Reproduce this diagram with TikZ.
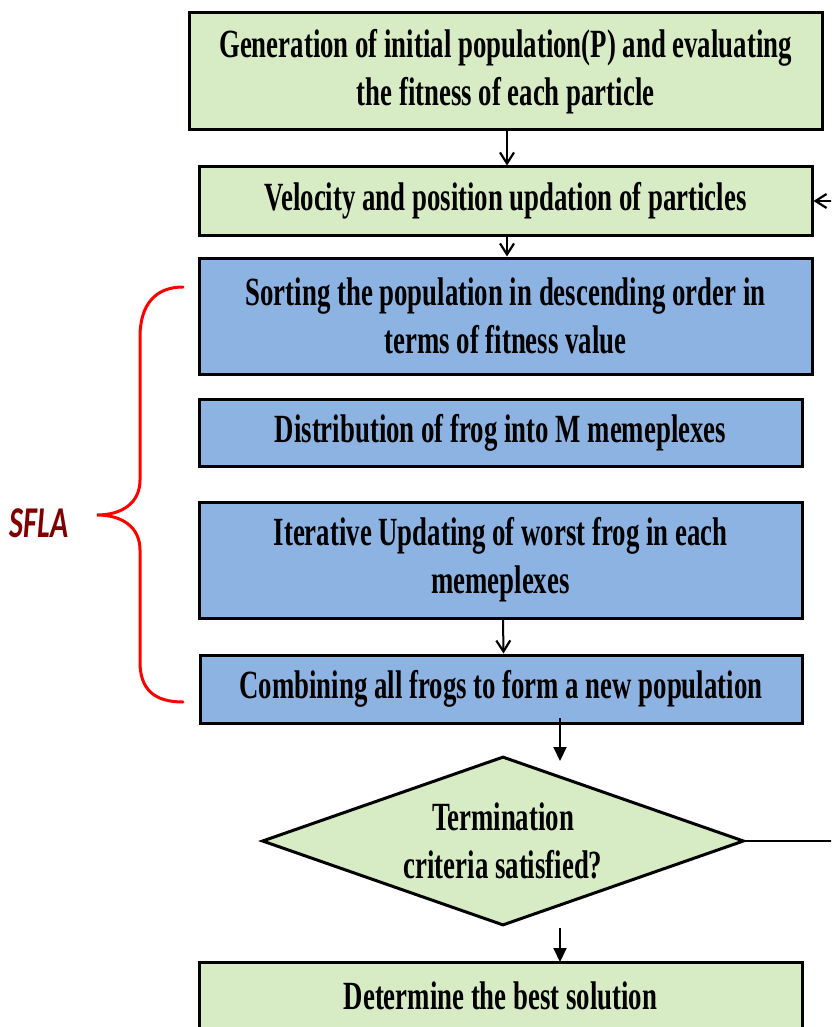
\documentclass[tikz,border=0pt]{standalone}
\usepackage{fontspec}
\usetikzlibrary{shapes.geometric,arrows.meta,calc}
\newfontfamily\boxfont[FakeStretch=0.67]{Liberation Serif}
\newfontfamily\sflafont[FakeStretch=0.68]{Carlito}
\definecolor{stepgreen}{HTML}{D7EBC4}
\definecolor{stepblue}{HTML}{8DB3E2}
\definecolor{sflared}{HTML}{800000}
\begin{document}
\begin{tikzpicture}[x=1pt,y=-1pt,
  box/.style={draw=black, line width=3pt, rectangle, inner sep=0pt, align=center,
    font=\boxfont\bfseries\fontsize{40}{48}\selectfont},
  greenbox/.style={box, fill=stepgreen},
  bluebox/.style={box, fill=stepblue},
  decision/.style={diamond, aspect=2.852, draw=black, line width=3pt, fill=stepgreen, inner sep=0pt,
    minimum width=482pt, minimum height=169pt, align=center,
    font=\boxfont\bfseries\fontsize{40}{48}\selectfont},
  flow/.style={line width=2pt, -{Straight Barb[length=11pt,width=14pt,line width=2.2pt]}},
  solidflow/.style={line width=2pt, -{Triangle[length=14pt,width=13pt]}},
  brace/.style={draw=red, line width=3pt, line cap=round},
]
\useasboundingbox (0,0) rectangle (831,1027);
\clip (0,0) rectangle (831,1027);

% process steps
\node[greenbox, minimum width=633pt, minimum height=117pt] (init) at (505.5,71.5)
  {Generation of initial population(P) and evaluating\\the fitness of each particle};
\node[greenbox, minimum width=613pt, minimum height=68pt] (update) at (505.5,201)
  {Velocity and position updation of particles};
\node[bluebox, minimum width=613pt, minimum height=116pt] (sort) at (505.5,316)
  {Sorting the population in descending order in\\terms of fitness value};
\node[bluebox, minimum width=603pt, minimum height=67pt] (distr) at (500.5,432.5)
  {Distribution of frog into M memeplexes};
\node[bluebox, minimum width=603pt, minimum height=116pt] (iter) at (500.5,560)
  {Iterative Updating of worst frog in each\\memeplexes};
\node[bluebox, minimum width=602pt, minimum height=68pt] (comb) at (501,689)
  {Combining all frogs to form a new population};
\node[decision] (term) at (503,841) {Termination\\criteria satisfied?};
\node[greenbox, minimum width=603pt, minimum height=68pt] (best) at (500.5,996)
  {Determine the best solution};

% connectors
\draw[flow] ([xshift=1.5pt]init.south) -- ([xshift=1.5pt]update.north);
\draw[flow] ([xshift=1.5pt]update.south) -- ([xshift=1.5pt]sort.north);
\draw[flow] ([xshift=2.5pt]iter.south) -- ([xshift=2.5pt]comb.north);
\coordinate (combout) at (560,718);
\coordinate (termin) at (560,761);
\draw[solidflow] (combout) -- (termin);
\coordinate (termout) at (560,928);
\coordinate (bestin) at (560,962);
\draw[solidflow] (termout) -- (bestin);
\coordinate (loopR) at (850,841);
\draw[flow, line width=2.6pt] (term.east) -- (loopR) |- (update.east);

% SFLA group brace
\draw[brace] (183,287) .. controls (155,287) and (140,305) .. (140,337)
  -- (140,480) .. controls (140,503) and (122,515) .. (97,515)
  .. controls (122,515) and (140,527) .. (140,550)
  -- (140,662) .. controls (140,690) and (155,702) .. (183,702);
\node[text=sflared, font=\sflafont\bfseries\itshape\fontsize{44}{48}\selectfont] (sfla) at (39,523) {SFLA};
\end{tikzpicture}
\end{document}
